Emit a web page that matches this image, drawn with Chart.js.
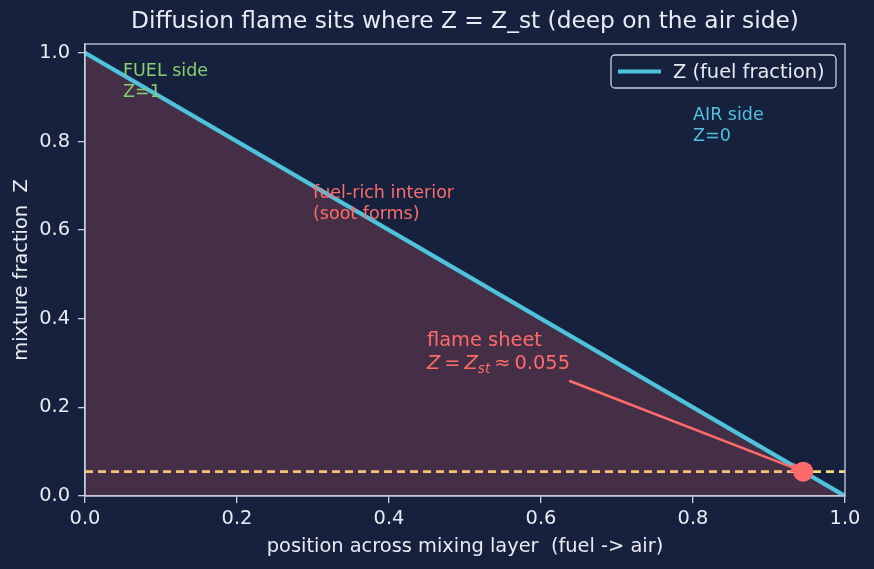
<!DOCTYPE html>
<html>
<head>
    <title>Diffusion flame</title>
    <script src="https://cdn.jsdelivr.net/npm/chart.js"></script>
    <style>
        html, body { margin: 0; padding: 0; background: #16213e; }
    </style>
</head>
<body>
<canvas id="flame" width="874" height="569"></canvas>
<script>
    // data
    const positions = [0.0, 1.0];
    const mixture = [1.0, 0.0];
    const z_st = 0.055;
    const flame_x = 0.945;
    const x_ticks = [0.0, 0.2, 0.4, 0.6, 0.8, 1.0];
    const y_ticks = [0.0, 0.2, 0.4, 0.6, 0.8, 1.0];
    const title_text = 'Diffusion flame sits where Z = Z_st (deep on the air side)';

    const BG = '#16213e';
    const FG = '#e8ebf2';
    const SPINE = '#c8d0e0';
    const CYAN = '#4fc3dc';
    const RED = '#ff6b6b';
    const YELLOW = '#f6d77c';
    const GREEN = '#86cf72';
    const FONT = 'DejaVu Sans';
    const BIG = 19.4;   // 10pt
    const SMALL = 17.5; // 9pt

    const bg_plugin = {
        id: 'bg',
        beforeDraw(chart) {
            const c = chart.ctx;
            c.save();
            c.fillStyle = BG;
            c.fillRect(0, 0, chart.width, chart.height);
            c.restore();
        }
    };

    // arrow goes under the flame dot
    const arrow_plugin = {
        id: 'arrow',
        beforeDatasetDraw(chart, args) {
            if (args.index !== 2) return;
            const c = chart.ctx;
            const xs = chart.scales.x, ys = chart.scales.y;
            const x0 = xs.getPixelForValue(0.637), y0 = ys.getPixelForValue(0.26);
            const x1 = xs.getPixelForValue(flame_x), y1 = ys.getPixelForValue(z_st);
            const ang = Math.atan2(y1 - y0, x1 - x0);
            c.save();
            c.strokeStyle = RED;
            c.fillStyle = RED;
            c.lineWidth = 2.5;
            c.beginPath();
            c.moveTo(x0, y0);
            c.lineTo(x1 - 6 * Math.cos(ang), y1 - 6 * Math.sin(ang));
            c.stroke();
            c.beginPath();
            c.moveTo(x1, y1);
            c.lineTo(x1 - 12 * Math.cos(ang) + 5 * Math.sin(ang), y1 - 12 * Math.sin(ang) - 5 * Math.cos(ang));
            c.lineTo(x1 - 12 * Math.cos(ang) - 5 * Math.sin(ang), y1 - 12 * Math.sin(ang) + 5 * Math.cos(ang));
            c.closePath();
            c.fill();
            c.restore();
        }
    };

    function lines(c, txt, x, y, size) {
        // y is the baseline of the last line (matplotlib style)
        const rows = txt.split('\n');
        const lh = size * 1.2;
        rows.forEach((r, i) => {
            c.fillText(r, x, y - (rows.length - 1 - i) * lh);
        });
    }

    const text_plugin = {
        id: 'notes',
        afterDatasetsDraw(chart) {
            const c = chart.ctx;
            const xs = chart.scales.x, ys = chart.scales.y;
            const a = chart.chartArea;
            c.save();

            // title centred over the plot area
            c.fillStyle = FG;
            c.font = '23.3px "' + FONT + '"';
            c.textAlign = 'center';
            c.textBaseline = 'middle';
            c.fillText(title_text, (a.left + a.right) / 2, 22);

            c.textBaseline = 'alphabetic';
            c.textAlign = 'left';

            c.font = SMALL + 'px "' + FONT + '"';
            c.fillStyle = GREEN;
            lines(c, 'FUEL side\nZ=1', xs.getPixelForValue(0.05), ys.getPixelForValue(0.90), SMALL);
            c.fillStyle = CYAN;
            lines(c, 'AIR side\nZ=0', xs.getPixelForValue(0.80), ys.getPixelForValue(0.80), SMALL);
            c.fillStyle = RED;
            lines(c, 'fuel-rich interior\n(soot forms)', xs.getPixelForValue(0.30), ys.getPixelForValue(0.625), SMALL);

            // flame sheet label with math
            const fx = xs.getPixelForValue(0.45), fy = ys.getPixelForValue(0.286);
            c.font = BIG + 'px "' + FONT + '"';
            c.fillText('flame sheet', fx, fy - 23);
            let px = fx;
            const seg = (t, f, dy, gap) => {
                c.font = f;
                c.fillText(t, px, fy + (dy || 0));
                px += c.measureText(t).width + (gap || 0);
            };
            const rm = BIG + 'px "' + FONT + '"';
            const it = 'italic ' + BIG + 'px "' + FONT + '"';
            seg('Z', it, 0, 4);
            seg('=', rm, 0, 4);
            seg('Z', it, 0, 0);
            seg('st', 'italic 13.6px "' + FONT + '"', 4, 4);
            seg('\u2248', rm, 0, 4);
            seg('0.055', rm, 0, 0);

            // frame (all four spines)
            c.strokeStyle = SPINE;
            c.lineWidth = 1.3;
            c.strokeRect(a.left, a.top, a.right - a.left, a.bottom - a.top);

            // legend box
            const lx = a.right - 234, ly = a.top + 11, lw = 225, lh = 33;
            c.fillStyle = BG;
            c.beginPath();
            c.roundRect(lx, ly, lw, lh, 4);
            c.fill();
            c.strokeStyle = SPINE;
            c.lineWidth = 1.3;
            c.stroke();
            c.strokeStyle = CYAN;
            c.lineWidth = 4;
            c.beginPath();
            c.moveTo(lx + 7, ly + lh / 2);
            c.lineTo(lx + 50, ly + lh / 2);
            c.stroke();
            c.fillStyle = FG;
            c.font = BIG + 'px "' + FONT + '"';
            c.textBaseline = 'middle';
            c.fillText('Z (fuel fraction)', lx + 62, ly + lh / 2 + 1);
            c.restore();
        }
    };

    const chart = new Chart(document.getElementById('flame'), {
        type: 'scatter',
        data: {
            datasets: [
                {
                    label: 'Z (fuel fraction)',
                    data: positions.map((x, i) => ({x: x, y: mixture[i]})),
                    showLine: true,
                    borderColor: CYAN,
                    borderWidth: 4.2,
                    pointRadius: 0,
                    fill: 'origin',
                    backgroundColor: 'rgba(255,107,107,0.2)',
                    order: 2
                },
                {
                    label: 'Z_st',
                    data: [{x: 0, y: z_st}, {x: 1, y: z_st}],
                    showLine: true,
                    borderColor: YELLOW,
                    borderWidth: 2.8,
                    borderDash: [8, 5],
                    pointRadius: 0,
                    fill: false,
                    order: 3
                },
                {
                    label: 'flame',
                    data: [{x: flame_x, y: z_st}],
                    pointRadius: 10,
                    pointBackgroundColor: RED,
                    pointBorderWidth: 0,
                    order: 1
                }
            ]
        },
        options: {
            responsive: false,
            animation: false,
            layout: { padding: { left: 0, right: 29, top: 44, bottom: 0 } },
            plugins: {
                legend: { display: false },
                tooltip: { enabled: false },
                title: { display: false }
            },
            scales: {
                x: {
                    type: 'linear',
                    min: 0, max: 1,
                    afterBuildTicks: s => { s.ticks = x_ticks.map(v => ({value: v})); },
                    afterFit: s => { s.height = 73; },
                    ticks: {
                        color: FG,
                        font: { family: FONT, size: BIG },
                        padding: 4,
                        callback: v => v.toFixed(1)
                    },
                    grid: { drawOnChartArea: false, drawTicks: true, tickLength: 7, color: SPINE, lineWidth: 1.3 },
                    border: { display: true, color: SPINE, width: 1.3 },
                    title: {
                        display: true,
                        text: 'position across mixing layer  (fuel -> air)',
                        color: FG,
                        font: { family: FONT, size: BIG },
                        padding: { top: 0, bottom: 10 }
                    }
                },
                y: {
                    type: 'linear',
                    min: 0, max: 1.02,
                    afterBuildTicks: s => { s.ticks = y_ticks.map(v => ({value: v})); },
                    afterFit: s => { s.width = 85; },
                    ticks: {
                        color: FG,
                        font: { family: FONT, size: BIG },
                        padding: 8,
                        callback: v => v.toFixed(1)
                    },
                    grid: { drawOnChartArea: false, drawTicks: true, tickLength: 7, color: SPINE, lineWidth: 1.3 },
                    border: { display: true, color: SPINE, width: 1.3 },
                    title: {
                        display: true,
                        text: 'mixture fraction  Z',
                        color: FG,
                        font: { family: FONT, size: BIG },
                        padding: { top: 10, bottom: 0 }
                    }
                }
            }
        },
        plugins: [bg_plugin, arrow_plugin, text_plugin]
    });
</script>
</body>
</html>
